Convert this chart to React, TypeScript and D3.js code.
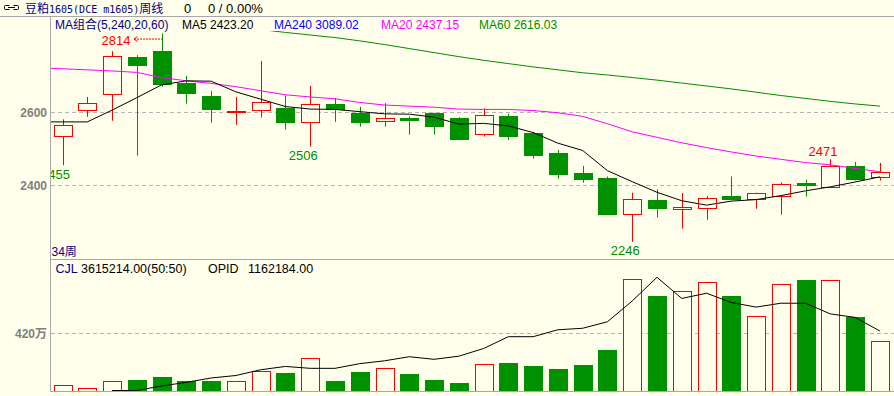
import React from "react";
import * as d3 from "d3";

// ---------- data ----------
const weeks = Array.from({ length: 34 }, (_, i) => `W${i + 1}`);

const opens = [2534, 2605, 2648, 2750, 2766, 2680, 2644, 2600, 2605, 2611, 2574, 2622, 2597, 2576, 2584, 2597, 2584, 2539, 2589, 2543, 2488, 2434, 2420, 2321, 2360, 2335, 2337, 2371, 2364, 2370, 2407, 2395, 2453, 2422];
const closes = [2564, 2624, 2752, 2729, 2677, 2653, 2608, 2602, 2627, 2573, 2621, 2608, 2573, 2583, 2579, 2563, 2527, 2591, 2535, 2484, 2432, 2418, 2323, 2362, 2339, 2340, 2365, 2364, 2379, 2404, 2402, 2453, 2418, 2436];
const highs = [2580, 2641, 2766, 2755, 2814, 2698, 2657, 2641, 2739, 2645, 2671, 2638, 2614, 2624, 2588, 2598, 2586, 2610, 2595, 2546, 2496, 2453, 2424, 2380, 2389, 2379, 2371, 2424, 2380, 2408, 2415, 2471, 2464, 2461];
const lows = [2455, 2587, 2576, 2481, 2669, 2623, 2571, 2565, 2585, 2552, 2506, 2573, 2560, 2560, 2538, 2538, 2525, 2533, 2524, 2473, 2418, 2407, 2320, 2246, 2312, 2282, 2306, 2359, 2336, 2320, 2369, 2394, 2413, 2413];

const ma5Before = 2573;
const ma5 = [2573, 2573, 2605, 2639, 2674, 2685, 2684, 2655, 2635, 2615, 2608, 2607, 2601, 2595, 2594, 2586, 2567, 2569, 2562, 2544, 2515, 2495, 2440, 2410, 2381, 2358, 2346, 2357, 2361, 2372, 2385, 2396, 2409, 2423.2];
const ma20Before = 2720;
const ma20 = [2718, 2715, 2712, 2708, 2694, 2685, 2678, 2669, 2658, 2647, 2641, 2636, 2626, 2619, 2616, 2613, 2608, 2607, 2607, 2604, 2598, 2588, 2568, 2546, 2531, 2516, 2503, 2491, 2480, 2471, 2462, 2456, 2446, 2437.15];
const ma60: (number | null)[] = [null, null, null, null, null, null, null, null, 2825, 2817, 2810, 2803, 2794, 2784, 2773, 2762, 2751, 2741, 2732, 2723, 2715, 2707, 2701, 2694, 2687, 2679, 2671, 2663, 2654, 2645, 2637, 2629, 2622, 2616.03];

// volume (万手) and open interest (万手)
const volumes = [41.5, 19.4, 70.6, 80, 102, 72.8, 72.8, 70.6, 143, 131, 238, 72.8, 138, 165, 124, 80, 58, 194, 204, 182, 160, 189, 298, 813, 691, 726, 791, 691, 544, 777, 808, 806, 539, 361.5];
const opid: (number | null)[] = [null, null, 1.0, 1.0, 9.7, 16.8, 25.2, 30.0, 41.1, 47.6, 43.9, 43.9, 53.0, 58.5, 66.4, 61.4, 67.4, 82.3, 105.2, 105.2, 118.6, 121.5, 134.1, 174.3, 220.2, 179.3, 189.4, 171.4, 162.5, 170.0, 170.0, 149.3, 142.6, 116.2184];

const priceTicks = [2400, 2600];
const volTicks = [420];

const markHigh = [{ i: 4, text: "2814", arrow: true }, { i: 31, text: "2471", arrow: false }];
const markLow = [{ i: 0, text: "2455" }, { i: 10, text: "2506" }, { i: 23, text: "2246" }];

// ---------- styles ----------
const BG = "#FFFFEB";
const RED = "#FF0000";
const GREEN = "#009100";
const NAVY = "#000080";
const AXIS = "#A8A8A8";
const SANS = "'Liberation Sans', Arial, 'Noto Sans CJK SC', sans-serif";
const CJK = "'Noto Sans CJK SC', sans-serif";
const MONO = "'DejaVu Sans Mono', monospace";

export default function App() {
  const x = d3.scaleLinear().domain([0, weeks.length - 1]).range([62.5, 879.9]);
  const y = d3.scaleLinear().domain([2400, 2600]).range([185.33, 112]);
  const vy = d3.scaleLinear().domain([0, 420]).range([391, 333.3]);
  const oy = d3.scaleLinear().domain([0, 116.2184]).range([391, 331]);
  const px = (i: number) => Math.round(x(i)) + 0.5;

  const line = d3
    .line<[number, number | null]>()
    .defined((d) => d[1] != null)
    .x((d) => x(d[0]))
    .y((d) => y(d[1] as number));
  const vline = d3
    .line<[number, number | null]>()
    .defined((d) => d[1] != null)
    .x((d) => x(d[0]))
    .y((d) => oy(d[1] as number));

  const ma5Pts: [number, number | null][] = [[-1, ma5Before], ...ma5.map((v, i) => [i, v] as [number, number])];
  const ma20Pts: [number, number | null][] = [[-1, ma20Before], ...ma20.map((v, i) => [i, v] as [number, number])];
  const ma60Pts: [number, number | null][] = ma60.map((v, i) => [i, v]);
  const opPts: [number, number | null][] = opid.map((v, i) => [i, v]);

  const BW = 18;

  return (
    <svg
      width={894}
      height={396}
      style={{ position: "absolute", left: 0, top: 0, display: "block" }}
    >
      <defs>
        <clipPath id="pclip">
          <rect x={51} y={31} width={843} height={228} />
        </clipPath>
        <clipPath id="vclip">
          <rect x={51} y={260} width={843} height={131} />
        </clipPath>
        <clipPath id="plabel">
          <rect x={51} y={17} width={843} height={242} />
        </clipPath>
      </defs>
      <rect x={0} y={0} width={894} height={396} fill={BG} />

      {/* header */}
      <g stroke="#000" strokeWidth={1} fill="none">
        <path d="M9.5,5.5 H5.5 Q4.5,5.5 4.5,6.5 V8.5 Q4.5,9.5 5.5,9.5 H9.5" />
        <path d="M13.5,5.5 H17.5 Q18.5,5.5 18.5,6.5 V8.5 Q18.5,9.5 17.5,9.5 H13.5" />
        <path d="M8,7.5 H15" />
      </g>
      <text x={25} y={12.5} fill={NAVY} fontSize={12}>
        <tspan fontFamily={CJK}>豆粕</tspan>
        <tspan fontFamily={MONO} fontSize={10}>1605(DCE m1605)</tspan>
        <tspan fontFamily={CJK}>周线</tspan>
      </text>
      <text x={184} y={12.5} fill="#000" fontSize={13} fontFamily={SANS}>0</text>
      <text x={208} y={12.5} fill="#000" fontSize={13} fontFamily={SANS}>0 / 0.00%</text>
      <line x1={0} x2={894} y1={16.5} y2={16.5} stroke={AXIS} />

      {/* axes frame */}
      <line x1={50.5} x2={50.5} y1={16.5} y2={391.5} stroke={AXIS} />
      <line x1={50.5} x2={894} y1={259.5} y2={259.5} stroke={AXIS} />
      <line x1={50.5} x2={894} y1={391.5} y2={391.5} stroke={AXIS} />

      {/* legend */}
      <g fontFamily={SANS} fontSize={12}>
        <text x={55} y={28.5} fill={NAVY}>MA组合(5,240,20,60)</text>
        <text x={182} y={28.5} fill="#000">MA5 2423.20</text>
        <text x={274} y={28.5} fill="#0000FF">MA240 3089.02</text>
        <text x={381} y={28.5} fill="#FF00FF">MA20 2437.15</text>
        <text x={479} y={28.5} fill="#008C00">MA60 2616.03</text>
      </g>

      {/* price grid */}
      {priceTicks.map((t) => (
        <g key={t}>
          <line x1={51} x2={894} y1={Math.round(y(t)) + 0.5} y2={Math.round(y(t)) + 0.5} stroke="#B4B4B4" strokeDasharray="4,3" />
          <text x={47} y={y(t) + 4.5} textAnchor="end" fill="#808080" fontFamily={SANS} fontSize={12} fontWeight="bold">{t}</text>
        </g>
      ))}

      {/* candles */}
      <g clipPath="url(#pclip)">
        {weeks.map((w, i) => {
          const up = closes[i] >= opens[i];
          const c = up ? RED : GREEN;
          const cx = px(i);
          const top = y(Math.max(opens[i], closes[i]));
          const bot = y(Math.min(opens[i], closes[i]));
          return (
            <g key={w}>
              <line x1={cx} x2={cx} y1={y(highs[i])} y2={y(lows[i])} stroke={c} />
              <rect
                x={cx - BW / 2}
                y={Math.round(top) + 0.5}
                width={BW}
                height={Math.max(Math.round(bot) - Math.round(top), 1)}
                fill={up ? BG : GREEN}
                stroke={c}
              />
            </g>
          );
        })}
        <path d={line(ma60Pts) || ""} fill="none" stroke="#008C00" />
        <path d={line(ma20Pts) || ""} fill="none" stroke="#FF00FF" />
        <path d={line(ma5Pts) || ""} fill="none" stroke="#000" />
      </g>

      {/* high / low marks */}
      <g clipPath="url(#plabel)" fontFamily={SANS} fontSize={13}>
        {markHigh.map((m) =>
          m.arrow ? (
            <g key={m.text}>
              <text x={130.5} y={y(highs[m.i]) + 11} textAnchor="end" fill={RED}>{m.text}</text>
              <line x1={134} x2={px(m.i)} y1={y(highs[m.i]) + 5.5} y2={y(highs[m.i]) + 5.5} stroke={RED} strokeDasharray="2,1" />
              <path d={`M137.5,${y(highs[m.i]) + 3} L134,${y(highs[m.i]) + 5.5} L137.5,${y(highs[m.i]) + 8}`} fill="none" stroke={RED} />
            </g>
          ) : (
            <text key={m.text} x={x(m.i) + 7} y={y(highs[m.i]) - 3.5} textAnchor="end" fill={RED}>{m.text}</text>
          )
        )}
        {markLow.map((m) => (
          <text key={m.text} x={x(m.i) + 7.5} y={y(lows[m.i]) + 13.5} textAnchor="end" fill="#008C00">{m.text}</text>
        ))}
      </g>
      <text x={51.5} y={255.5} fill={NAVY} fontFamily={SANS} fontSize={12}>34周</text>

      {/* volume panel */}
      <g fontFamily={SANS} fontSize={12.5}>
        <text x={55.5} y={273} fill={NAVY}>CJL</text>
        <text x={81} y={273} fill="#000">3615214.00(50:50)</text>
        <text x={208} y={273} fill="#000">OPID</text>
        <text x={248} y={273} fill="#000">1162184.00</text>
      </g>
      {volTicks.map((t) => (
        <g key={t}>
          <line x1={51} x2={894} y1={Math.round(vy(t)) + 0.5} y2={Math.round(vy(t)) + 0.5} stroke="#B4B4B4" strokeDasharray="4,3" />
          <text x={47} y={vy(t) + 4.5} textAnchor="end" fill="#808080" fontFamily={SANS} fontSize={12} fontWeight="bold">
            {t}
            <tspan fontFamily={CJK} fontWeight="bold">万</tspan>
          </text>
        </g>
      ))}
      <g clipPath="url(#vclip)">
        {weeks.map((w, i) => {
          const up = closes[i] >= opens[i];
          const cx = px(i);
          const top = Math.round(vy(volumes[i])) + 0.5;
          return (
            <rect
              key={w}
              x={cx - BW / 2}
              y={top}
              width={BW}
              height={391 - top + 0.5}
              fill={up ? BG : GREEN}
              stroke={up ? RED : GREEN}
            />
          );
        })}
        <path d={vline(opPts) || ""} fill="none" stroke="#000" />
      </g>
    </svg>
  );
}
